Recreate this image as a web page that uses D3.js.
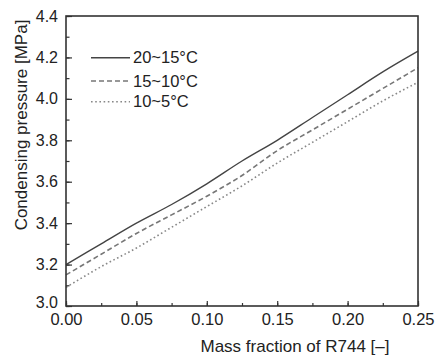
<!DOCTYPE html>
<html><head><meta charset="utf-8">
<script src="https://cdn.jsdelivr.net/npm/d3@7/dist/d3.min.js"></script>
<style>body{margin:0;background:#fff;}svg{display:block;font-family:"Liberation Sans",Arial,sans-serif;}</style>
</head><body>
<svg id="c" width="435" height="356"></svg>
<script>
const massFraction = [0, 0.025, 0.05, 0.075, 0.10, 0.125, 0.15, 0.175, 0.20, 0.225, 0.25];
const p20to15 = [3.20, 3.30, 3.40, 3.49, 3.59, 3.70, 3.80, 3.91, 4.02, 4.13, 4.23];
const p15to10 = [3.15, 3.25, 3.35, 3.44, 3.53, 3.63, 3.75, 3.85, 3.95, 4.05, 4.15];
const p10to5  = [3.09, 3.19, 3.28, 3.38, 3.48, 3.58, 3.69, 3.79, 3.89, 3.99, 4.08];
const seriesNames = ["20~15°C", "15~10°C", "10~5°C"];
const xTicks = [0, 0.05, 0.10, 0.15, 0.20, 0.25];
const yTicks = [3.0, 3.2, 3.4, 3.6, 3.8, 4.0, 4.2, 4.4];
const xTitle = "Mass fraction of R744 [–]";
const yTitle = "Condensing pressure [MPa]";

const svg = d3.select("#c");
const L = 66, R = 418, T = 16, B = 306;
const x = d3.scaleLinear().domain([0, 0.25]).range([L, R]);
const y = d3.scaleLinear().domain([3.0, 4.4]).range([B, T]);

const series = [
  {name: seriesNames[0], vals: p20to15, color: "#444", width: 1.4, dash: null},
  {name: seriesNames[1], vals: p15to10, color: "#777", width: 1.6, dash: "5,3"},
  {name: seriesNames[2], vals: p10to5,  color: "#888", width: 1.6, dash: "1.6,2.6"}
];

const line = d3.line().x((d, i) => x(massFraction[i])).y(d => y(d)).curve(d3.curveMonotoneX);
series.forEach(s => {
  svg.append("path").datum(s.vals).attr("d", line)
    .attr("fill", "none").attr("stroke", s.color).attr("stroke-width", s.width)
    .attr("stroke-dasharray", s.dash);
});

// axes with inward ticks
const xMinor = d3.range(0, 0.2501, 0.025);
const yMinor = d3.range(3.0, 4.401, 0.1);
const axisColor = "#333";
const xAxis = svg.append("g").attr("transform", `translate(0,${B})`)
  .call(d3.axisBottom(x).tickValues(xTicks).tickFormat(d3.format(".2f")).tickSizeInner(-5).tickSizeOuter(0).tickPadding(7));
const yAxis = svg.append("g").attr("transform", `translate(${L},0)`)
  .call(d3.axisLeft(y).tickValues(yTicks).tickFormat(d3.format(".1f")).tickSizeInner(-6).tickSizeOuter(0).tickPadding(8));
svg.append("g").attr("transform", `translate(0,${B})`)
  .call(d3.axisBottom(x).tickValues(xMinor).tickFormat("").tickSizeInner(-3).tickSizeOuter(0))
  .call(g => g.select(".domain").remove());
svg.append("g").attr("transform", `translate(${L},0)`)
  .call(d3.axisLeft(y).tickValues(yMinor).tickFormat("").tickSizeInner(-3.5).tickSizeOuter(0))
  .call(g => g.select(".domain").remove());
svg.selectAll(".tick line").attr("stroke", axisColor).attr("stroke-width", 1.2);
xAxis.selectAll(".tick text").attr("font-size", 16.5).attr("fill", "#222").attr("font-family", "Liberation Sans, Arial, sans-serif");
yAxis.selectAll(".tick text").attr("font-size", 16).attr("fill", "#222").attr("font-family", "Liberation Sans, Arial, sans-serif");
yAxis.selectAll(".tick text").filter(d => d === 3.0).attr("dy", "0.12em");
svg.selectAll(".domain").remove();

// frame
svg.append("rect").attr("x", L).attr("y", T).attr("width", R - L).attr("height", B - T)
  .attr("fill", "none").attr("stroke", axisColor).attr("stroke-width", 1.6);

// titles
svg.append("text").attr("x", 295).attr("y", 352).attr("text-anchor", "middle")
  .attr("font-size", 17).attr("fill", "#222").text(xTitle);
svg.append("text").attr("transform", "translate(27,125) rotate(-90)").attr("text-anchor", "middle")
  .attr("font-size", 17).attr("fill", "#222").text(yTitle);

// legend
const legY = [57.7, 81, 101.7];
series.forEach((s, i) => {
  svg.append("line").attr("x1", 91).attr("x2", 130).attr("y1", legY[i]).attr("y2", legY[i])
    .attr("stroke", s.color).attr("stroke-width", s.width).attr("stroke-dasharray", s.dash);
  svg.append("text").attr("x", 133).attr("y", legY[i]).attr("dy", "0.35em")
    .attr("font-size", 16.5).attr("fill", "#222").text(s.name);
});
</script>
</body></html>
